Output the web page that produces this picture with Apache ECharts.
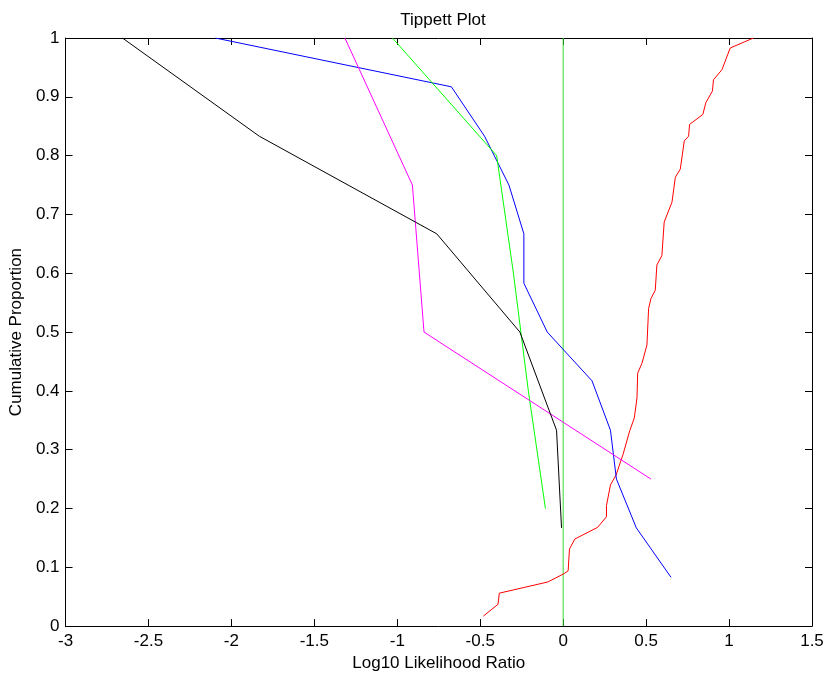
<!DOCTYPE html>
<html>
<head>
<meta charset="utf-8">
<script src="https://cdn.jsdelivr.net/npm/echarts@6/dist/echarts.min.js"></script>
<style>
html,body{margin:0;padding:0;background:#fff;}
#chart{width:828px;height:677px;}
</style>
</head>
<body>
<div id="chart"></div>
<script>
// Data (x = Log10 LR, y = cumulative proportion)
var blackPts = [[-2.657,1],[-1.832,0.833],[-0.762,0.667],[-0.261,0.5],[-0.040,0.333],[-0.010,0.167]];
var bluePts = [[-2.097,1],[-0.674,0.917],[-0.474,0.833],[-0.327,0.75],[-0.237,0.667],[-0.237,0.583],[-0.096,0.5],[0.174,0.417],[0.285,0.333],[0.321,0.25],[0.441,0.167],[0.650,0.083]];
var greenPts = [[-1.029,1],[-0.401,0.8],[-0.30,0.6],[-0.21,0.4],[-0.107,0.2]];
var magentaPts = [[-1.316,1],[-0.909,0.75],[-0.839,0.5],[0.529,0.25]];
var redPts = [[-0.481,0.017],[-0.393,0.037],[-0.385,0.056],[-0.093,0.075],[0.004,0.089],[0.030,0.094],[0.038,0.131],[0.070,0.148],[0.208,0.168],[0.261,0.186],[0.261,0.205],[0.285,0.240],[0.319,0.257],[0.361,0.292],[0.401,0.332],[0.429,0.354],[0.445,0.388],[0.449,0.430],[0.475,0.447],[0.505,0.478],[0.515,0.540],[0.529,0.557],[0.555,0.571],[0.565,0.614],[0.595,0.630],[0.609,0.687],[0.656,0.721],[0.676,0.763],[0.706,0.777],[0.730,0.825],[0.756,0.833],[0.762,0.853],[0.842,0.870],[0.860,0.890],[0.900,0.910],[0.906,0.929],[0.957,0.946],[1.007,0.983],[1.147,1.0]];
var zeroLinePts = [[0,0],[0,1]];
var xRange = [-3, 1.5];
var yRange = [0, 1];

var font = '"Liberation Sans", Arial, sans-serif';
var FS = 17;
var chart = echarts.init(document.getElementById('chart'), null, {renderer:'canvas'});
function baseX(pos, showLabel){
  return {
    type:'value', position:pos, min:xRange[0], max:xRange[1], interval:0.5,
    axisLine:{show:true, onZero:false, lineStyle:{color:'#000', width:1}},
    axisTick:{show:true, inside:true, length:7, lineStyle:{color:'#000'}},
    axisLabel:{show:showLabel, color:'#000', fontSize:FS, fontFamily:font, margin:7},
    splitLine:{show:false}
  };
}
function baseY(pos, showLabel){
  return {
    type:'value', position:pos, min:yRange[0], max:yRange[1], interval:0.1,
    axisLine:{show:true, onZero:false, lineStyle:{color:'#000', width:1}},
    axisTick:{show:true, inside:true, length:7, lineStyle:{color:'#000'}},
    axisLabel:{show:showLabel, color:'#000', fontSize:FS, fontFamily:font, margin:6,
      formatter:function(v){return String(Math.round(v*10)/10);}},
    splitLine:{show:false}
  };
}
var x0 = baseX('bottom', true);
x0.name = 'Log10 Likelihood Ratio';
x0.nameLocation = 'middle';
x0.nameGap = 25;
x0.nameTextStyle = {color:'#000', fontSize:FS, fontFamily:font};
var y0 = baseY('left', true);
y0.name = 'Cumulative Proportion';
y0.nameLocation = 'middle';
y0.nameGap = 38;
y0.nameTextStyle = {color:'#000', fontSize:FS, fontFamily:font};

function ln(data, color){
  return {type:'line', data:data, showSymbol:false, symbol:'none', silent:true,
    lineStyle:{color:color, width:1}, itemStyle:{color:color}, animation:false};
}

chart.setOption({
  animation:false,
  backgroundColor:'#fff',
  title:{text:'Tippett Plot', left:438, textAlign:'center', top:7,
    textStyle:{color:'#000', fontSize:FS, fontWeight:'normal', fontFamily:font}},
  grid:{left:64, right:16, top:38, bottom:48, containLabel:false},
  xAxis:[x0, baseX('top', false)],
  yAxis:[y0, baseY('right', false)],
  series:[
    ln(zeroLinePts, '#33dd33'),
    ln(redPts, '#ff0000'),
    ln(bluePts, '#0000ff'),
    ln(greenPts, '#00ff00'),
    ln(magentaPts, '#ff00ff'),
    ln(blackPts, '#000000')
  ]
});
</script>
</body>
</html>
